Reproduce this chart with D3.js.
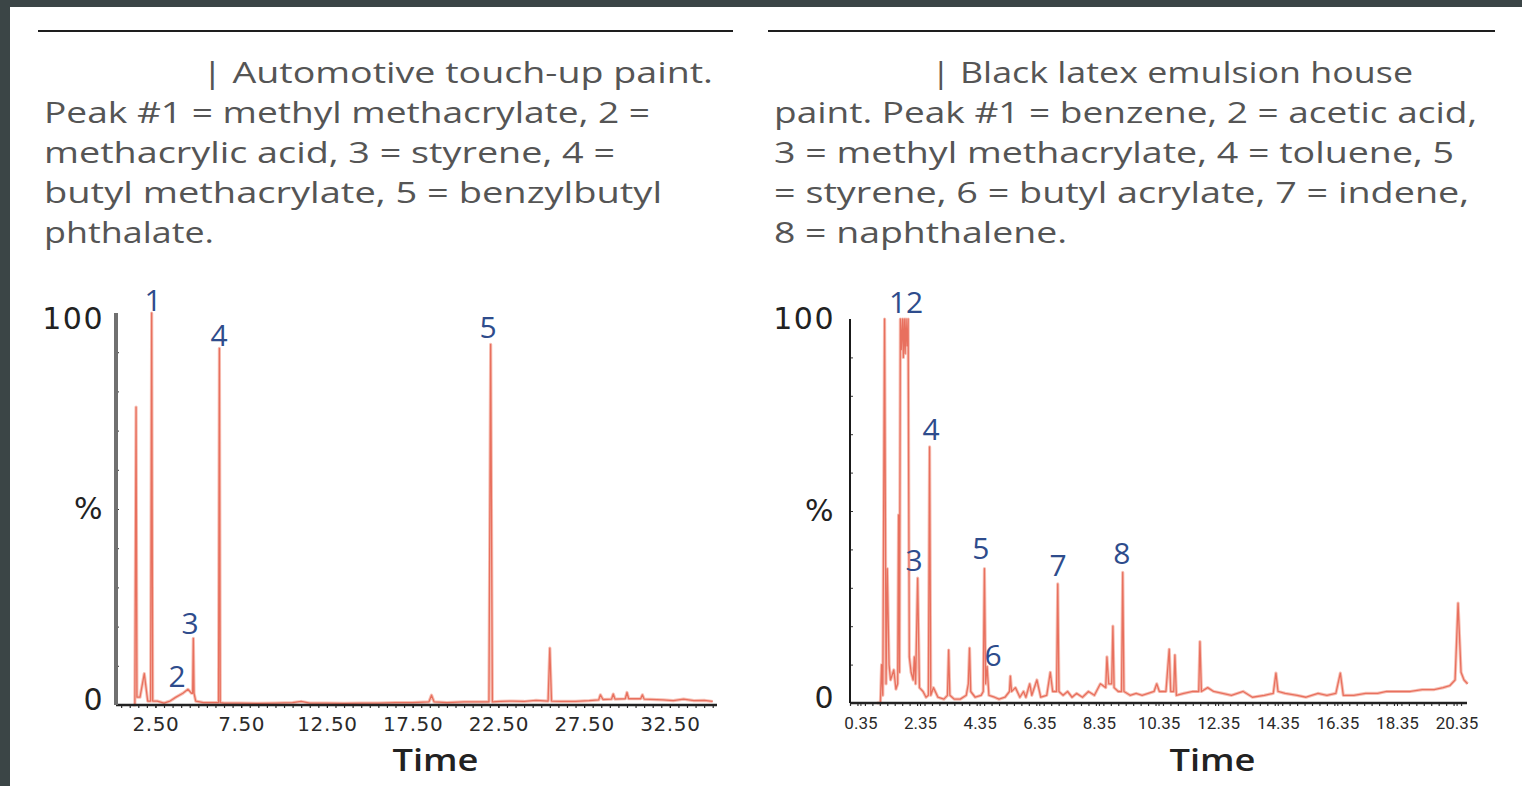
<!DOCTYPE html>
<html>
<head>
<meta charset="utf-8">
<script src="https://cdn.jsdelivr.net/npm/d3@7/dist/d3.min.js"></script>
<style>
  html, body { margin: 0; padding: 0; background: #3b4546; }
  svg { display: block; }
</style>
</head>
<body>
<script>
// ---------------- DATA ----------------
const leftCaption = [
  "| Automotive touch-up paint.",
  "Peak #1 = methyl methacrylate, 2 =",
  "methacrylic acid, 3 = styrene, 4 =",
  "butyl methacrylate, 5 = benzylbutyl",
  "phthalate."
];
const rightCaption = [
  "| Black latex emulsion house",
  "paint. Peak #1 = benzene, 2 = acetic acid,",
  "3 = methyl methacrylate, 4 = toluene, 5",
  "= styrene, 6 = butyl acrylate, 7 = indene,",
  "8 = naphthalene."
];

const leftTicks = [2.5, 7.5, 12.5, 17.5, 22.5, 27.5, 32.5];
const rightTicks = [0.35, 2.35, 4.35, 6.35, 8.35, 10.35, 12.35, 14.35, 16.35, 18.35, 20.35];
const yTicks = [0, 50, 100];
const yTickLabels = { 0: "0", 50: "%", 100: "100" };
const xTitle = "Time";

// chromatogram: [retention time (min), relative intensity (%)]
const leftTrace = [
  [1.2, 0], [1.3, 0], [1.37, 76], [1.42, 2], [1.6, 2], [1.85, 8], [2.05, 1], [2.22, 1],
  [2.28, 100], [2.34, 1], [2.6, 1], [3.0, 0.5], [3.35, 1], [3.7, 2], [4.1, 3], [4.4, 4],
  [4.6, 3], [4.67, 3], [4.71, 17], [4.75, 3], [4.85, 1], [5.3, 0.6], [5.8, 0.6], [6.18, 0.6],
  [6.23, 91], [6.28, 0.6], [6.5, 0.5], [7.5, 0.5], [8.5, 0.4], [9.5, 0.5], [10.5, 0.6],
  [11.0, 0.9], [11.5, 0.5], [12.5, 0.5], [13.5, 0.4], [14.5, 0.5], [15.5, 0.5], [16.5, 0.6],
  [17.5, 0.6], [18.45, 0.8], [18.6, 2.5], [18.75, 0.8], [19.5, 0.6], [20.5, 0.8], [21.3, 0.8],
  [21.95, 0.8], [22.05, 92], [22.15, 0.8], [22.6, 0.9], [23.3, 1], [24.0, 0.9], [24.7, 1.2],
  [25.4, 1], [25.5, 14.5], [25.6, 1], [26.2, 0.9], [27.0, 0.9], [27.8, 1.1], [28.35, 1.3],
  [28.45, 2.6], [28.6, 1.4], [29.1, 1.5], [29.2, 2.8], [29.3, 1.5], [29.9, 1.6], [30.0, 3.2],
  [30.1, 1.6], [30.8, 1.6], [30.9, 2.6], [31.0, 1.5], [32.1, 1.3], [32.7, 1.1], [33.3, 1.5],
  [33.9, 1.1], [34.5, 1.2], [35.0, 0.9]
];
const rightTrace = [
  [0.9, 0], [1.02, 0], [1.06, 10], [1.1, 2], [1.16, 100], [1.21, 5], [1.25, 35], [1.31, 10],
  [1.36, 6], [1.47, 8.6], [1.54, 3.6], [1.6, 5], [1.63, 49], [1.66, 8], [1.69, 100], [1.72, 92],
  [1.76, 100], [1.79, 90], [1.82, 100], [1.85, 91], [1.88, 100], [1.91, 93], [1.95, 100],
  [1.99, 12], [2.05, 8], [2.12, 6], [2.16, 12], [2.2, 5],
  [2.27, 32.5], [2.33, 4], [2.45, 3], [2.55, 1.5], [2.63, 2], [2.67, 66.7], [2.71, 2], [2.8, 4],
  [2.95, 1.5], [3.15, 1], [3.27, 2], [3.31, 13.8], [3.35, 2], [3.5, 1], [3.7, 1], [3.9, 2],
  [3.97, 5], [4.01, 14.3], [4.05, 3], [4.2, 1.5], [4.4, 2], [4.47, 3], [4.51, 35], [4.55, 5],
  [4.6, 9.5], [4.66, 2], [4.85, 1.5], [5.0, 1], [5.2, 1.5], [5.35, 3], [5.38, 7], [5.42, 3],
  [5.55, 4], [5.7, 1.5], [5.82, 3], [5.9, 1.5], [6.03, 5], [6.1, 2], [6.27, 6], [6.4, 1.5],
  [6.6, 2], [6.72, 8], [6.8, 3], [6.93, 3], [6.97, 31], [7.01, 3], [7.15, 2], [7.3, 3],
  [7.45, 1.5], [7.6, 2.5], [7.8, 1.5], [8.0, 3], [8.2, 2], [8.4, 5], [8.58, 4], [8.62, 12],
  [8.68, 5], [8.78, 5], [8.82, 20], [8.86, 4], [9.0, 3], [9.11, 3], [9.15, 34], [9.19, 3],
  [9.4, 2], [9.6, 2.5], [9.8, 2], [10.0, 2.5], [10.2, 3], [10.29, 5], [10.38, 3], [10.6, 3],
  [10.71, 14], [10.76, 3], [10.86, 3], [10.9, 12.5], [10.95, 2], [11.2, 2.5], [11.5, 3],
  [11.7, 3], [11.74, 16], [11.79, 3], [12.0, 4], [12.2, 3], [12.5, 2.5], [12.8, 2], [13.19, 3],
  [13.5, 1.5], [13.9, 2], [14.2, 2.5], [14.29, 7.8], [14.36, 3], [14.6, 2.5], [15.0, 2],
  [15.3, 1.5], [15.7, 2.5], [16.0, 2], [16.3, 2.5], [16.45, 7.8], [16.55, 2], [16.9, 2],
  [17.3, 2.5], [17.7, 2.5], [18.0, 3], [18.4, 3], [18.8, 3], [19.2, 3.5], [19.6, 3.5],
  [19.9, 4], [20.12, 4.5], [20.3, 6], [20.4, 26], [20.5, 8], [20.6, 6], [20.72, 5]
];

// peak number annotations: [label, time, intensity at label baseline]
const leftPeaks = [["1", 2.36, 100.5], ["2", 3.76, 4.6], ["3", 4.52, 18.1], ["4", 6.21, 91.6], ["5", 21.9, 93.6]];
const rightPeaks = [["12", 1.88, 101.6], ["3", 2.15, 34.4], ["4", 2.72, 68.5], ["5", 4.39, 37.5],
                    ["6", 4.80, 9.6], ["7", 6.98, 33.1], ["8", 9.12, 36.2]];

// ---------------- DRAW ----------------
const W = 1522, H = 786;
const svg = d3.select("body").append("svg").attr("width", W).attr("height", H);
svg.append("rect").attr("width", W).attr("height", H).attr("fill", "#3b4546");
svg.append("rect").attr("x", 10).attr("y", 7).attr("width", W - 10).attr("height", H - 7).attr("fill", "#ffffff");

const captionWidths = {
  left: [511, 606, 571, 618, 170],
  right: [482, 703, 680, 695, 293]
};

function caption(lines, x0, barX, ruleX0, ruleX1, widths) {
  svg.append("line").attr("x1", ruleX0).attr("x2", ruleX1).attr("y1", 31).attr("y2", 31)
    .attr("stroke", "#1e1e1e").attr("stroke-width", 2);
  lines.forEach((s, i) => {
    svg.append("text")
      .attr("x", i === 0 ? barX : x0)
      .attr("y", 83 + i * 40)
      .attr("font-family", "'Open Sans', sans-serif")
      .attr("font-size", 29)
      .attr("fill", "#555555")
      .attr("textLength", widths[i])
      .attr("lengthAdjust", "spacingAndGlyphs")
      .text(s);
  });
}
caption(leftCaption, 44, 202, 38, 733, captionWidths.left);
caption(rightCaption, 774, 931, 768, 1495, captionWidths.right);

function chart(cfg) {
  const x = d3.scaleLinear().domain(cfg.xDomain).range([cfg.x0, cfg.x1]);
  const y = d3.scaleLinear().domain([0, 100]).range([cfg.yBottom, cfg.yTop]);
  const g = svg.append("g");

  // trace
  const line = d3.line().x(d => x(d[0])).y(d => y(d[1]));
  g.append("path").datum(cfg.trace).attr("d", line)
    .attr("fill", "none").attr("stroke", "#f7c1b6").attr("stroke-width", 3.2)
    .attr("stroke-linejoin", "round");
  g.append("path").datum(cfg.trace).attr("d", line)
    .attr("fill", "none").attr("stroke", "#e8705e").attr("stroke-width", 1.3)
    .attr("stroke-linejoin", "round");

  // x axis (minor ticks)
  const xMinor = d3.range(Math.ceil(cfg.xDomain[0] / cfg.minor) * cfg.minor, cfg.xDomain[1], cfg.minor);
  g.append("g").attr("transform", `translate(0,${cfg.yBottom})`)
    .call(d3.axisBottom(x).tickValues(xMinor).tickSize(3).tickFormat(""))
    .call(a => a.selectAll(".tick line").attr("stroke", "#333").attr("stroke-width", 1.2))
    .call(a => a.select(".domain").remove());
  const xa = g.append("g").attr("transform", `translate(0,${cfg.yBottom})`)
    .call(d3.axisBottom(x).tickValues(cfg.ticks).tickSize(3).tickPadding(cfg.xPad)
      .tickFormat(d => d.toFixed(2)));
  xa.select(".domain").attr("stroke", "#222").attr("stroke-width", 2.6)
    .attr("d", `M${cfg.x0},0H${cfg.x1}`);
  xa.selectAll(".tick line").attr("stroke", "#222");
  xa.selectAll("text").attr("font-family", cfg.xFont).attr("font-size", cfg.xFontSize)
    .attr("fill", "#2a2a2a").attr("letter-spacing", cfg.xLetter);

  // y axis
  g.append("g").attr("transform", `translate(${cfg.x0},0)`)
    .call(d3.axisRight(y).tickValues(d3.range(10, 100, 10)).tickSize(3).tickFormat(""))
    .call(a => a.select(".domain").remove())
    .call(a => a.selectAll(".tick line").attr("stroke", "#333"));
  const ya = g.append("g").attr("transform", `translate(${cfg.x0},0)`)
    .call(d3.axisLeft(y).tickValues(yTicks).tickSize(0).tickPadding(cfg.yPad)
      .tickFormat(d => yTickLabels[d]));
  ya.select(".domain").attr("stroke", cfg.yAxisColor).attr("stroke-width", cfg.yAxisWidth)
    .attr("d", `M0,${cfg.yTop}V${cfg.yBottom}`);
  ya.selectAll("text").attr("font-family", "'DejaVu Sans', sans-serif").attr("font-size", 30)
    .attr("fill", "#222").attr("letter-spacing", 1.5)
    .attr("dy", d => d === 100 ? cfg.dy100 : d === 0 ? "0.15em" : "0.32em");

  // axis title
  g.append("text").attr("x", (cfg.x0 + cfg.x1) / 2 + cfg.titleShift).attr("y", 771)
    .attr("text-anchor", "middle").attr("font-family", "'Open Sans', sans-serif")
    .attr("font-size", 31).attr("font-weight", 600).attr("fill", "#222")
    .attr("textLength", 86).attr("lengthAdjust", "spacingAndGlyphs")
    .text(xTitle);

  // peak labels
  g.selectAll(".pk").data(cfg.peaks).join("text")
    .attr("x", d => x(d[1])).attr("y", d => y(d[2]))
    .attr("text-anchor", "middle").attr("font-family", "'Open Sans', sans-serif")
    .attr("font-size", 30).attr("fill", "#2e4c8c")
    .text(d => d[0]);
}

chart({
  trace: leftTrace, peaks: leftPeaks, ticks: leftTicks,
  xDomain: [0.2, 35.25], x0: 116, x1: 717, yTop: 313, yBottom: 705,
  minor: 0.5, xPad: 9, xFont: "'DejaVu Sans', sans-serif", xFontSize: 20, xLetter: 0.6,
  yPad: 12, yAxisColor: "#707070", yAxisWidth: 4, titleShift: 19, dy100: "0.5em"
});
chart({
  trace: rightTrace, peaks: rightPeaks, ticks: rightTicks,
  xDomain: [0, 20.7], x0: 850, x1: 1467, yTop: 319, yBottom: 703,
  minor: 0.25, xPad: 11, xFont: "Roboto, sans-serif", xFontSize: 17, xLetter: 0,
  yPad: 15, yAxisColor: "#1a1a1a", yAxisWidth: 2, titleShift: 54, dy100: "0.32em"
});
</script>
</body>
</html>
